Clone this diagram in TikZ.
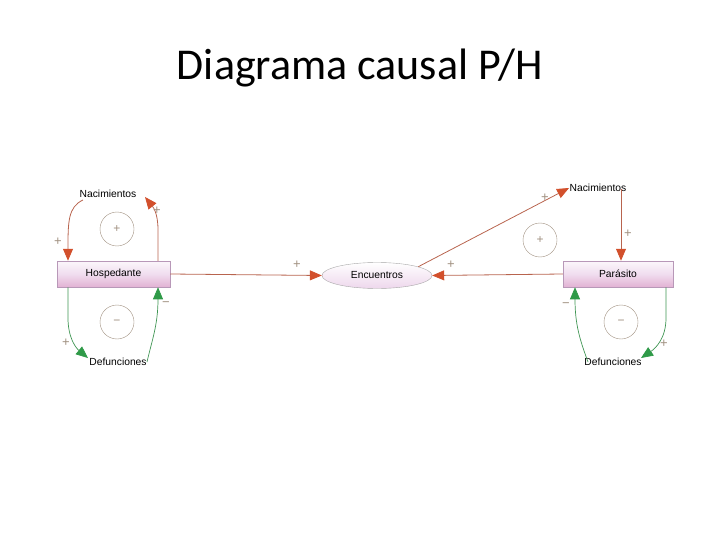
\documentclass[tikz,border=0pt]{standalone}
\usepackage{fontspec}
\setmainfont{Liberation Sans}
\newfontfamily\titlefont{Carlito}
\usetikzlibrary{arrows.meta,shapes.geometric}
\definecolor{arrred}{HTML}{D2502C}
\definecolor{linebrown}{HTML}{B8644E}
\definecolor{arrgreen}{HTML}{2F9A48}
\definecolor{pinkfill}{HTML}{E6C6E4}
\definecolor{pinkedge}{HTML}{B898B8}
\definecolor{signgray}{HTML}{A09080}
\begin{document}
\begin{tikzpicture}[x=1pt,y=-1pt,
  lbl/.style={font=\fontsize{10.3}{12}\selectfont, inner sep=1pt},
  stock/.style={draw=pinkedge, line width=0.5pt, minimum width=113pt, minimum height=26pt,
    top color=white!85!pinkfill, bottom color=pinkfill!90!purple, middle color=pinkfill!60,
    font=\fontsize{10.3}{12}\selectfont, inner sep=0pt},
  aux/.style={ellipse, draw=gray!70, line width=0.4pt, minimum width=110pt, minimum height=26pt,
    top color=white, bottom color=pinkfill!70, font=\fontsize{10.3}{12}\selectfont, inner sep=0pt},
  redarr/.style={draw=linebrown, line width=0.8pt, -{Triangle[length=12pt,width=10pt,fill=arrred,color=arrred]}},
  greenarr/.style={draw=arrgreen!80!gray, line width=0.7pt, -{Triangle[length=12pt,width=10pt,fill=arrgreen,color=arrgreen]}},
  loopc/.style={circle, draw=signgray, line width=0.4pt, minimum size=34pt, inner sep=0pt, text=signgray, font=\fontsize{12}{13}\selectfont},
  sgn/.style={text=signgray, font=\fontsize{13}{14}\selectfont, inner sep=0pt}
]
\useasboundingbox (0,0) rectangle (720,540);
\node[font=\titlefont\fontsize{44}{50}\selectfont] (title) at (360,68) {Diagrama causal P/H};

% stocks and auxiliary
\node[stock] (host) at (113.5,274) {Hospedante};
\node[stock, minimum width=110pt] (para) at (618,274) {Parásito};
\node[aux] (enc) at (377,275.5) {Encuentros};

% flow labels
\node[lbl] (nacH) at (108,194) {Nacimientos};
\node[lbl] (defH) at (118,362) {Defunciones};
\node[lbl] (nacP) at (598,188) {Nacimientos};
\node[lbl] (defP) at (613,362) {Defunciones};

% loop markers
\node[loopc] (lh1) at (117,229) {+};
\node[loopc] (lh2) at (117,322) {−};
\node[loopc] (lp1) at (540,240) {+};
\node[loopc] (lp2) at (621,322) {−};

% host births loop
\draw[redarr] ([xshift=-25pt,yshift=-1pt]nacH.south) .. controls (68,207) and (68,222) .. ([xshift=-45.5pt]host.north);
\draw[redarr] ([xshift=44.5pt]host.north) -- (158,230) .. controls (158,213) and (153,207) .. ([xshift=37pt,yshift=2pt]nacH.south);
\node[sgn] (s1) at (58,242) {+};
\node[sgn] (s2) at (157,211) {+};

% host deaths loop
\draw[greenarr] ([xshift=-45.5pt]host.south) -- (68,318) .. controls (68,338) and (76,348) .. ([xshift=-30pt,yshift=-1pt]defH.north);
\draw[greenarr] ([xshift=29pt,yshift=-5pt]defH.north) .. controls (152,340) and (158,325) .. ([xshift=44.5pt]host.south);
\node[sgn] (s3) at (66,343) {+};
\node[sgn] (s4) at (166,304) {−};

% encounters
\draw[redarr] (host.east) -- (enc.west);
\draw[redarr] (para.west) -- (enc.east);
\draw[redarr] (enc.12) -- ([xshift=-29pt,yshift=5pt]nacP.south);
\node[sgn] (s5) at (297,265) {+};
\node[sgn] (s6) at (451,265) {+};
\node[sgn] (s7) at (545,198) {+};

% parasite births
\draw[redarr] ([xshift=23pt,yshift=4pt]nacP.south) -- ([xshift=3pt]para.north);
\node[sgn] (s8) at (628,234) {+};

% parasite deaths loop
\draw[greenarr] ([xshift=48pt]para.south) -- (666,318) .. controls (666,338) and (656,348) .. ([xshift=28pt,yshift=-1pt]defP.north);
\draw[greenarr] ([xshift=-25pt,yshift=-5pt]defP.north) .. controls (580,340) and (575,325) .. ([xshift=-43pt]para.south);
\node[sgn] (s9) at (664,344) {+};
\node[sgn] (s10) at (566,305) {−};
\end{tikzpicture}
\end{document}
